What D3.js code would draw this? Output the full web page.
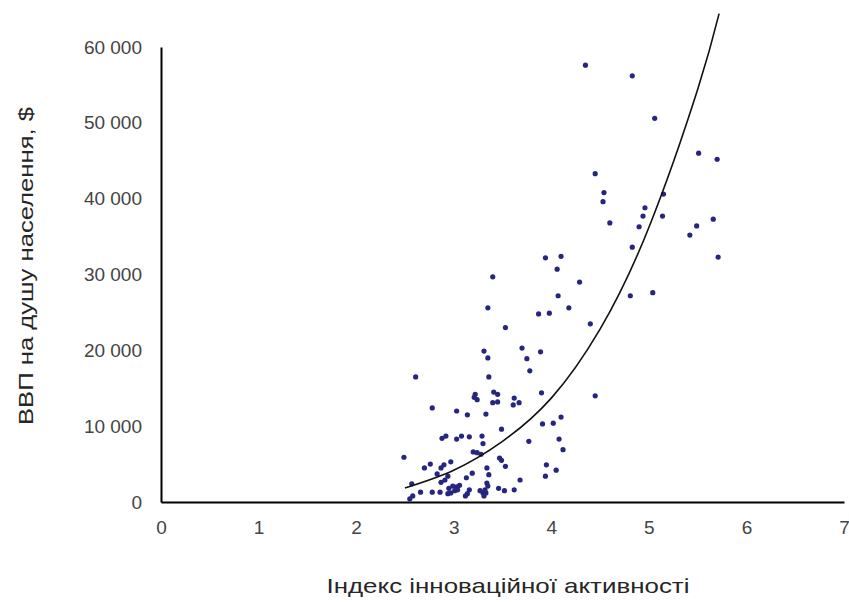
<!DOCTYPE html>
<html>
<head>
<meta charset="utf-8">
<script src="https://cdn.jsdelivr.net/npm/d3@7"></script>
<style>
  html, body { margin: 0; padding: 0; background: #fff; }
  svg { display: block; }
  text { font-family: "Liberation Sans", Arial, sans-serif; }
</style>
</head>
<body>
<svg id="chart" width="849" height="604"></svg>
<script>
// ---- Data ----
const innovationIndex = [
  4.35, 4.83, 5.06, 5.51, 5.70, 4.45, 4.54, 4.53, 5.15, 4.96,
  4.94, 5.14, 4.60, 4.90, 5.66, 5.49, 5.42, 4.83, 5.71, 3.94,
  4.10, 4.06, 3.40, 4.29, 4.07, 4.81, 5.04, 3.35, 3.87, 3.98,
  4.18, 4.40, 4.45, 3.53, 3.31, 3.35, 3.70, 3.89, 3.75, 3.78,
  2.61, 3.36, 3.41, 3.45, 3.22, 3.21, 3.24, 3.40, 3.45, 3.62,
  3.67, 3.61, 3.90, 2.78, 3.03, 3.14, 3.33, 4.10, 3.91, 4.02,
  3.49, 2.88, 2.92, 3.03, 3.08, 3.16, 3.29, 3.30, 3.77, 4.08,
  4.12, 2.49, 3.20, 3.24, 3.28, 3.47, 3.49, 3.53, 2.70, 2.76,
  2.87, 2.90, 2.97, 3.34, 3.95, 4.05, 2.83, 2.94, 3.19, 3.36,
  3.94, 2.87, 3.13, 3.34, 3.68, 2.57, 3.46, 3.52, 3.62, 2.66,
  2.78, 2.86, 2.95, 2.99, 3.03, 3.06, 2.97, 3.01, 3.04, 2.94,
  2.91, 3.16, 3.14, 3.12, 3.27, 3.30, 3.33, 3.32, 3.31, 3.35,
  2.58, 2.55
];
const gdpPerCapita = [
  57600, 56200, 50600, 46000, 45200, 43300, 40800, 39600, 40600, 38800,
  37700, 37700, 36800, 36300, 37300, 36400, 35200, 33600, 32300, 32200,
  32400, 30700, 29700, 29000, 27200, 27200, 27600, 25600, 24800, 24900,
  25600, 23500, 14000, 23000, 19900, 19000, 20300, 19800, 18900, 17300,
  16500, 16500, 14500, 14200, 14200, 13800, 13500, 13100, 13200, 13700,
  13100, 12800, 14400, 12400, 12000, 11500, 11600, 11200, 10300, 10400,
  9600, 8400, 8700, 8300, 8700, 8600, 8700, 7700, 8000, 8300,
  6900, 5900, 6600, 6500, 6300, 5800, 5500, 4700, 4500, 5000,
  4500, 4900, 5300, 4500, 4900, 4200, 3700, 3400, 3800, 3600,
  3400, 2600, 3200, 2500, 2900, 2400, 1800, 1500, 1600, 1300,
  1300, 1300, 1800, 2100, 2000, 2200, 1200, 1500, 1600, 1100,
  2900, 1600, 1100, 800, 1500, 1200, 1200, 1600, 800, 2100,
  800, 400
];
// Trend line (power trend)
const trendX = [2.5, 3.0, 3.5, 4.0, 4.5, 5.0, 5.5, 5.72];
const trendY = [1850, 4200, 8000, 13700, 22800, 36200, 54400, 64400];

const xTicks = [0, 1, 2, 3, 4, 5, 6, 7];
const yTicks = [0, 10000, 20000, 30000, 40000, 50000, 60000];
const xTitle = "Індекс інноваційної активності";
const yTitle = "ВВП на душу населення, $";

// ---- Chart ----
const svg = d3.select("#chart");
const x = d3.scaleLinear().domain([0, 7]).range([161, 844]);
const y = d3.scaleLinear().domain([0, 60000]).range([502, 47]);

const locale = d3.formatLocale({ decimal: ",", thousands: " ", grouping: [3], currency: ["", ""] });
const fmt = locale.format(",");

const xAxis = svg.append("g")
  .attr("transform", `translate(0,${y(0)})`)
  .call(d3.axisBottom(x).tickValues(xTicks).tickSize(0).tickSizeOuter(0).tickPadding(19).tickFormat(d3.format("d")));
const yAxis = svg.append("g")
  .attr("transform", `translate(${x(0)},0)`)
  .call(d3.axisLeft(y).tickValues(yTicks).tickSize(0).tickSizeOuter(0).tickPadding(19).tickFormat(fmt));

[xAxis, yAxis].forEach(g => {
  g.select(".domain").attr("stroke", "#000").attr("stroke-width", 2);
  g.selectAll("text").attr("font-size", 19).attr("fill", "#444")
    .attr("font-family", "'Liberation Sans', Arial, sans-serif");
});

// points
const pts = innovationIndex.map((v, i) => ({ x: v, y: gdpPerCapita[i] }));
svg.append("g").selectAll("circle").data(pts).join("circle")
  .attr("cx", d => x(d.x))
  .attr("cy", d => y(d.y))
  .attr("r", 2.6)
  .attr("fill", "#26267f");

// trend line
const line = d3.line().x(d => x(d[0])).y(d => y(d[1])).curve(d3.curveNatural);
svg.append("path")
  .datum(trendX.map((v, i) => [v, trendY[i]]))
  .attr("d", line)
  .attr("fill", "none")
  .attr("stroke", "#111")
  .attr("stroke-width", 1.6);

// titles
svg.append("text")
  .attr("x", 508).attr("y", 593)
  .attr("text-anchor", "middle")
  .attr("font-size", 21)
  .attr("fill", "#262626")
  .attr("textLength", 363).attr("lengthAdjust", "spacingAndGlyphs")
  .text(xTitle);

svg.append("text")
  .attr("transform", "translate(33,266) rotate(-90)")
  .attr("text-anchor", "middle")
  .attr("font-size", 21)
  .attr("fill", "#262626")
  .attr("textLength", 318).attr("lengthAdjust", "spacingAndGlyphs")
  .text(yTitle);
</script>
</body>
</html>
